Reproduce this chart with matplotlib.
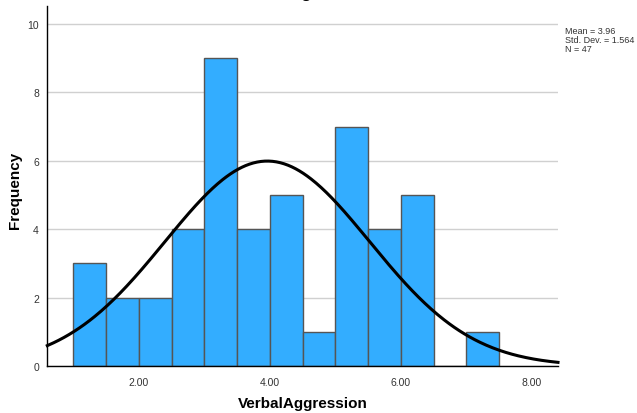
import numpy as np
import matplotlib
matplotlib.use("Agg")
import matplotlib.pyplot as plt

plt.rcParams['font.family'] = ['Liberation Sans', 'DejaVu Sans']

# histogram bins (width 0.5) and counts
bin_edges = [1.0, 1.5, 2.0, 2.5, 3.0, 3.5, 4.0, 4.5, 5.0, 5.5, 6.0, 6.5, 7.0, 7.5]
counts = [3, 2, 2, 4, 9, 4, 5, 1, 7, 4, 5, 0, 1]

# summary stats shown in the chart
mean = 3.96
std_dev = 1.564
n_obs = 47

x_ticks = [2.0, 4.0, 6.0, 8.0]
y_ticks = [0, 2, 4, 6, 8, 10]

fig = plt.figure(figsize=(6.37, 4.14), dpi=100)
ax = fig.add_axes([47.3 / 637, 1 - 367 / 414, (558 - 47.3) / 637, 360 / 414])

left = np.array(bin_edges[:-1])
width = np.diff(bin_edges)
ax.bar(left, counts, width=width, align='edge', color='#33adff',
       edgecolor='#555555', linewidth=1.0, zorder=2)

# fitted normal curve
binw = width[0]
xs = np.linspace(0.6, 8.4, 400)
ys = n_obs * binw / (std_dev * np.sqrt(2 * np.pi)) * np.exp(-0.5 * ((xs - mean) / std_dev) ** 2)
ax.plot(xs, ys, color='black', linewidth=2.2, zorder=3, clip_on=False)

ax.set_xlim(0.6, 8.4)
ax.set_ylim(0, 10.53)
ax.set_xticks(x_ticks)
ax.set_xticklabels([f"{t:.2f}" for t in x_ticks])
ax.set_yticks(y_ticks)
ax.tick_params(axis='both', length=0, labelsize=7.5, labelcolor='#333333')
ax.tick_params(axis='x', pad=8)
ax.tick_params(axis='y', pad=6)

ax.yaxis.grid(True, color='#d0d0d0', linewidth=1.0, zorder=0)
ax.set_axisbelow(True)
for s in ['top', 'right']:
    ax.spines[s].set_visible(False)
for s in ['left', 'bottom']:
    ax.spines[s].set_color('black')
    ax.spines[s].set_linewidth(1.0)

ax.set_xlabel('VerbalAggression', fontsize=11, fontweight='bold')
ax.set_ylabel('Frequency', fontsize=11, fontweight='bold')
ax.xaxis.set_label_coords(0.5, -0.083)
ax.yaxis.set_label_coords(-0.05, 0.49)

# title mostly cut off at the top, as in the reference
fig.text(302 / 637, 1 + 2 / 414, 'Histogram', ha='center', va='baseline',
         fontsize=12, fontweight='bold')

fig.text(565 / 637, 1 - 27 / 414,
         f"Mean = {mean}\nStd. Dev. = {std_dev}\nN = {n_obs}",
         ha='left', va='top', fontsize=6.5, color='#333333', linespacing=1.0)

fig.savefig('out.png', dpi=100)
